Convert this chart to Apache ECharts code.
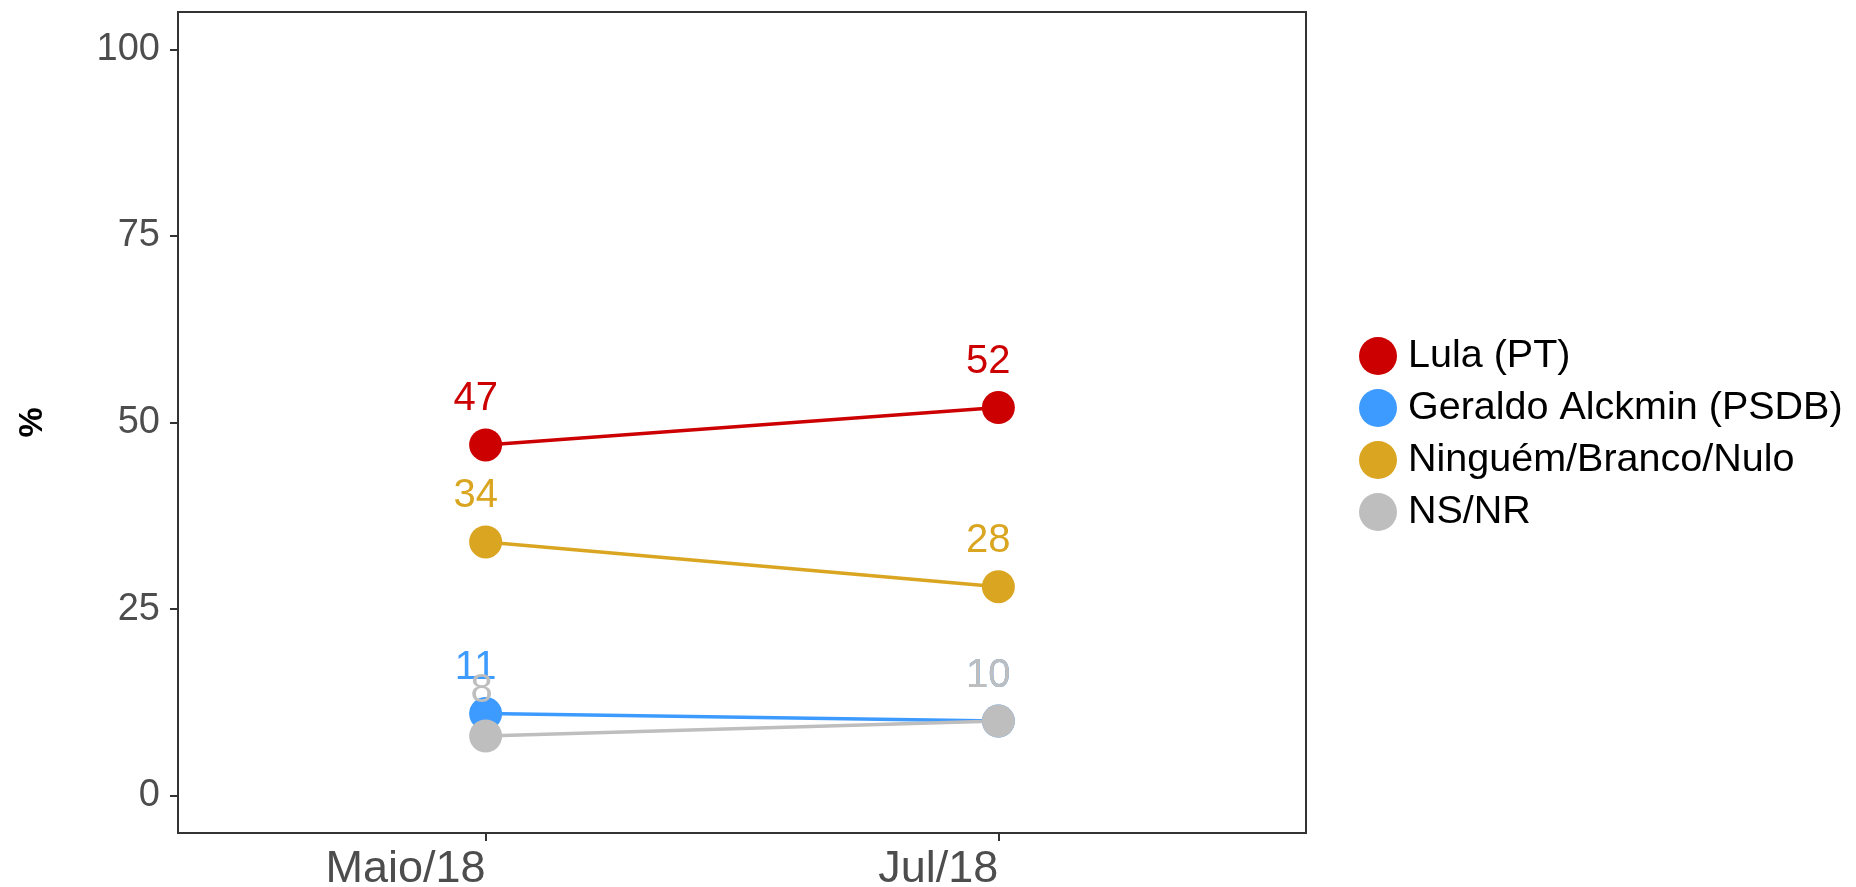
<!DOCTYPE html>
<html>
<head>
<meta charset="UTF-8">
<title>ECharts</title>
<script type="text/javascript" src="https://cdn.jsdelivr.net/npm/echarts@6/dist/echarts.min.js"></script>
<style>
  html, body { margin: 0; padding: 0; background: #fff; }
  #main { width: 1856px; height: 887px; }
</style>
</head>
<body>
<div id="main"></div>
<script type="text/javascript">
// dados
var categorias = ['Maio/18', 'Jul/18'];
var nomes = ['Lula (PT)', 'Geraldo Alckmin (PSDB)', 'Ninguém/Branco/Nulo', 'NS/NR'];
var lula = [47, 52];
var alckmin = [11, 10];
var ninguem = [34, 28];
var nsnr = [8, 10];
var yTicks = [0, 25, 50, 75, 100];
var cores = ['#CC0000', '#3D9BFF', '#DAA520', '#BEBEBE'];

var myChart = echarts.init(document.getElementById('main'));

// monta os pontos [posicao, valor]; rotulos de 1 digito ficam menos deslocados
function pontos(valores) {
    var out = [];
    for (var i = 0; i < valores.length; i++) {
        var item = { value: [i + 1, valores[i]] };
        if (String(valores[i]).length < 2) {
            item.label = { offset: [-4, 0] };
        }
        out.push(item);
    }
    return out;
}

function serie(idx, valores) {
    return {
        name: nomes[idx],
        type: 'line',
        data: pontos(valores),
        symbol: 'circle',
        symbolSize: 33,
        itemStyle: { color: cores[idx] },
        lineStyle: { color: cores[idx], width: 3.5 },
        label: {
            show: true,
            position: 'top',
            distance: 9,
            offset: [-10, 0],
            color: cores[idx],
            fontFamily: 'Liberation Sans',
            fontSize: 40,
            formatter: function (p) { return p.value[1]; }
        },
        emphasis: { disabled: true },
        animation: false
    };
}

myChart.setOption({
    backgroundColor: '#ffffff',
    animation: false,
    grid: {
        left: 178, top: 12, width: 1128, height: 821,
        outerBoundsMode: 'none',
        containLabel: false,
        show: true, borderColor: '#333333', borderWidth: 2,
        backgroundColor: '#ffffff'
    },
    legend: {
        orient: 'vertical',
        left: 1354,
        top: 331,
        icon: 'circle',
        itemWidth: 38,
        itemHeight: 38,
        itemGap: 12,
        textStyle: {
            color: '#000000',
            fontFamily: 'Liberation Sans',
            fontSize: 39.5,
            padding: [0, 0, 0, 6]
        },
        data: nomes
    },
    xAxis: {
        type: 'value',
        min: 0.4,
        max: 2.6,
        splitLine: { show: false },
        axisLine: { show: false, onZero: false },
        axisTick: {
            show: true, length: 8, customValues: [1, 2],
            lineStyle: { color: '#333333', width: 2 }
        },
        axisLabel: {
            customValues: [1, 2],
            align: 'right',
            margin: 14,
            color: '#4D4D4D',
            fontFamily: 'Liberation Sans',
            fontSize: 45,
            formatter: function (v) { return categorias[Math.round(v) - 1]; }
        }
    },
    yAxis: {
        type: 'value',
        min: -5,
        max: 105,
        name: '%',
        nameLocation: 'middle',
        nameRotate: 90,
        nameGap: 128,
        nameTextStyle: {
            color: '#000000',
            fontFamily: 'Liberation Sans',
            fontWeight: 'bold',
            fontSize: 34
        },
        splitLine: { show: false },
        axisLine: { show: false, onZero: false },
        axisTick: {
            show: true, length: 8, customValues: yTicks,
            lineStyle: { color: '#333333', width: 2 }
        },
        axisLabel: {
            customValues: yTicks,
            margin: 18,
            color: '#4D4D4D',
            fontFamily: 'Liberation Sans',
            fontSize: 38
        }
    },
    series: [
        serie(0, lula),
        serie(1, alckmin),
        serie(2, ninguem),
        serie(3, nsnr)
    ]
});
</script>
</body>
</html>
